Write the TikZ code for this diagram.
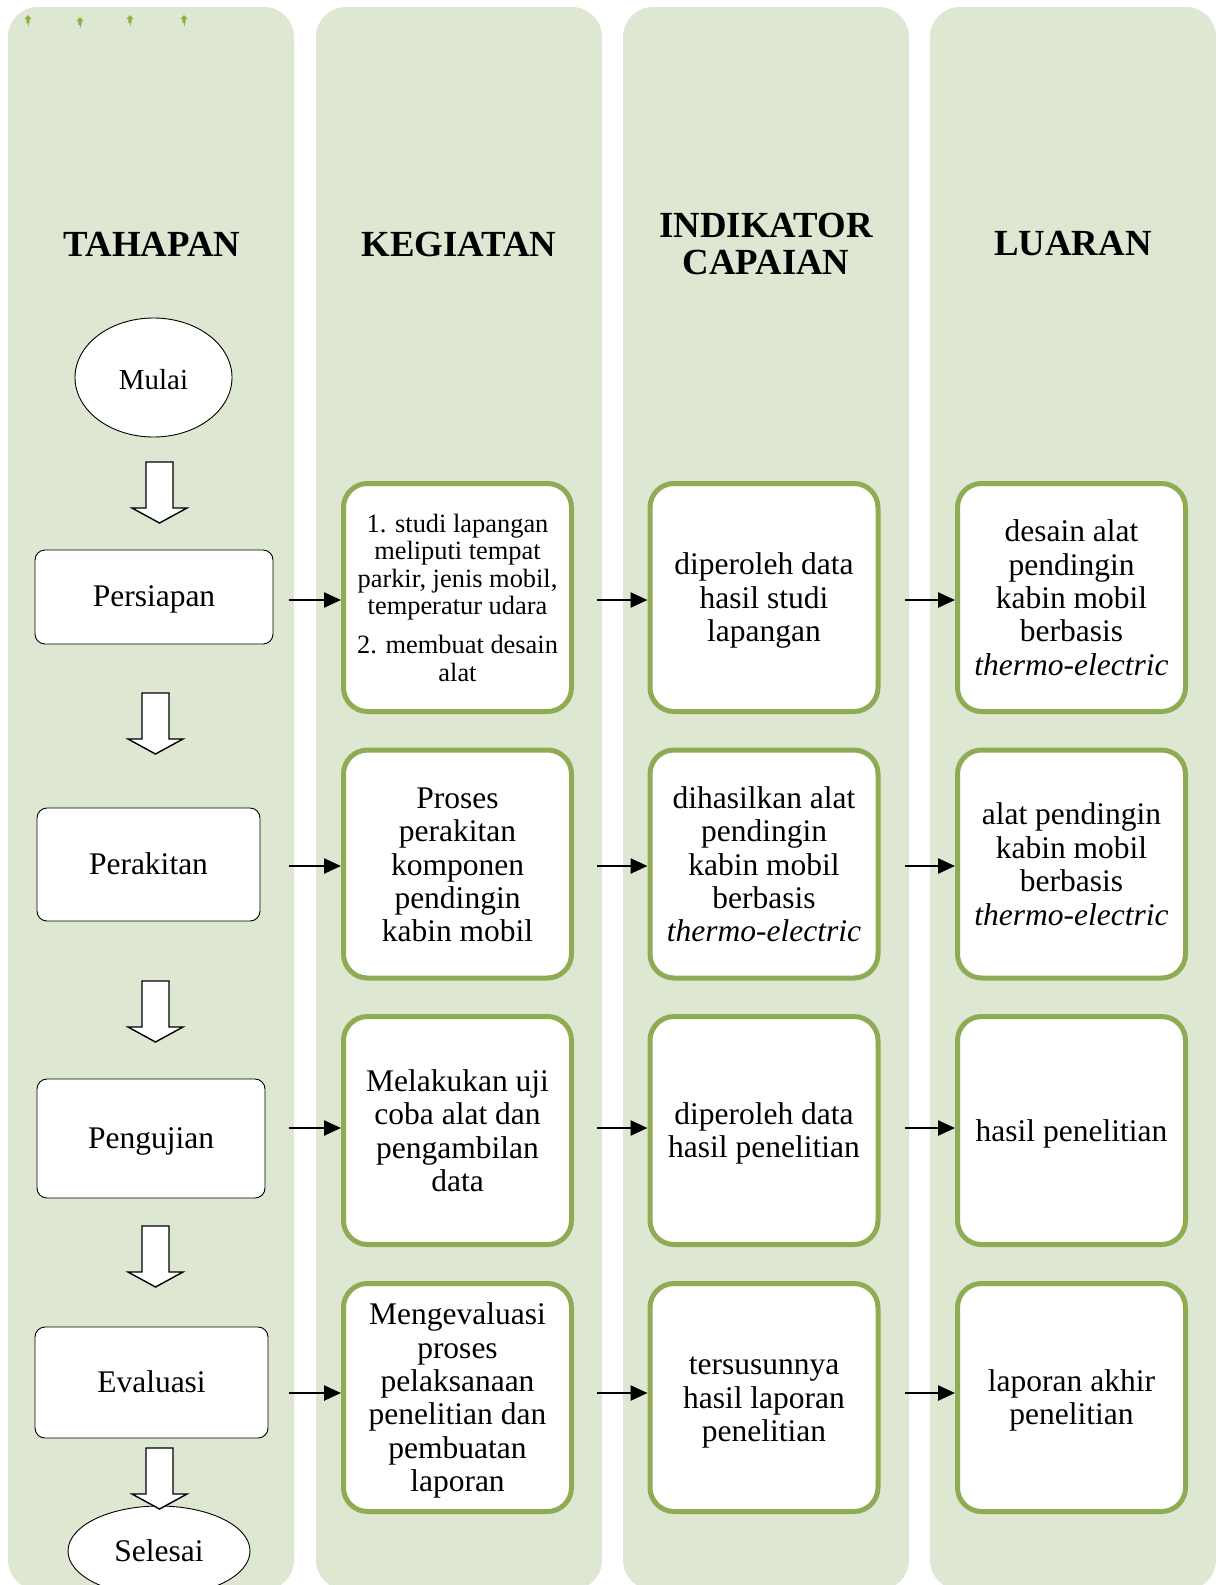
\documentclass[tikz,border=0pt]{standalone}
\usepackage{fontspec}
\setmainfont{Liberation Serif}
\usetikzlibrary{arrows.meta,shapes.geometric}
\definecolor{colbg}{HTML}{DEE7D1}
\definecolor{boxgreen}{HTML}{8FAC54}
\definecolor{tinygreen}{HTML}{8CB43C}
\newcommand\hdfont{\fontsize{36.8}{37.5}\selectfont\bfseries}
\newcommand\bdfont{\fontsize{31.5}{33.4}\selectfont}
\newcommand\smfont{\fontsize{26.4}{27.6}\selectfont}
\newcommand\mlfont{\fontsize{29}{31}\selectfont}
% struts: boxes centre their text on uniform line boxes
\newcommand\gtop{\rule{0pt}{28pt}}
\newcommand\gbot{\rule[-6pt]{0pt}{6pt}}
\newcommand\lst{\rule[-6pt]{0pt}{32pt}}
\newcommand\blkarrow[2]{%
  \draw[line width=1.4pt, fill=white, line join=miter]
    (#1-13.5,#2) -- (#1+13.5,#2) -- (#1+13.5,#2+46) -- (#1+27.5,#2+46)
    -- (#1,#2+61) -- (#1-27.5,#2+46) -- (#1-13.5,#2+46) -- cycle;}
\newcommand\tinyarrow[2]{%
  \draw[gray!70, line width=0.8pt] (#1,#2+7) -- (#1,#2+11);
  \fill[tinygreen] (#1,#2) -- (#1+3.5,#2+4) -- (#1+1.6,#2+4) -- (#1+1.6,#2+8)
    -- (#1-1.6,#2+8) -- (#1-1.6,#2+4) -- (#1-3.5,#2+4) -- cycle;}
\begin{document}
\begin{tikzpicture}[x=1pt,y=-1pt,
  hd/.style={font=\hdfont, align=center, inner sep=0pt},
  gbox/.style={draw=boxgreen, line width=5pt, fill=white, rounded corners=24pt,
    minimum width=228pt, minimum height=228pt, align=center, font=\bdfont, inner sep=0pt},
  lbox/.style={draw=black, line width=0.9pt, fill=white, rounded corners=10pt,
    align=center, font=\bdfont, inner sep=0pt},
  oval/.style={ellipse, draw=black, line width=0.9pt, fill=white, inner sep=0pt},
  conn/.style={line width=2.5pt, -{Triangle[length=17pt,width=15pt]}}]
\useasboundingbox (0,0) rectangle (1221,1585);
\begin{scope}
\clip (0,0) rectangle (1221,1585);
\foreach \l in {8,316,623,930}
  \fill[colbg, rounded corners=30pt] (\l,7) rectangle ++(286,1583);

% tiny marks
\tinyarrow{28}{15}
\tinyarrow{80}{17}
\tinyarrow{130}{15}
\tinyarrow{184}{15}

% headings
\node[hd] (h1) at (152,244) {TAHAPAN};
\node[hd] (h2) at (459,244) {KEGIATAN};
\node[hd] (h3) at (766,244) {INDIKATOR\\CAPAIAN};
\node[hd] (h4) at (1073,244) {LUARAN};

% left column
\node[oval, minimum width=157pt, minimum height=119pt, font=\mlfont] (mulai) at (153.5,377.5) {\rule[-3pt]{0pt}{30pt}Mulai};
\node[lbox, minimum width=238pt, minimum height=94pt] (t1) at (154,597) {\lst Persiapan};
\node[lbox, minimum width=223pt, minimum height=113pt] (t2) at (148.5,864.5) {\lst Perakitan};
\node[lbox, minimum width=228pt, minimum height=119pt] (t3) at (151,1138.5) {\lst Pengujian};
\node[lbox, minimum width=233pt, minimum height=111pt] (t4) at (151.5,1382.5) {\lst Evaluasi};
\node[oval, minimum width=182pt, minimum height=90pt, font=\bdfont] (selesai) at (159,1551) {Selesai};

\blkarrow{159.5}{462}
\blkarrow{155.5}{693}
\blkarrow{155.5}{981}
\blkarrow{155.5}{1226}
\blkarrow{159.5}{1448}

% kegiatan
\node[gbox, font=\smfont] (k1) at (457.5,597.5) {1. studi lapangan\\meliputi tempat\\parkir, jenis mobil,\\temperatur udara\\[11pt]2. membuat desain\\alat};
\node[gbox] (k2) at (457.5,864) {\gtop Proses\\perakitan\\komponen\\pendingin\\kabin mobil\gbot};
\node[gbox] (k3) at (457.5,1130.5) {\gtop Melakukan uji\\coba alat dan\\pengambilan\\data\gbot};
\node[gbox] (k4) at (457.5,1397.5) {\gtop Mengevaluasi\\proses\\pelaksanaan\\penelitian dan\\pembuatan\\laporan\gbot};

% indikator
\node[gbox] (i1) at (764,597.5) {\gtop diperoleh data\\hasil studi\\lapangan\gbot};
\node[gbox] (i2) at (764,864) {\gtop dihasilkan alat\\pendingin\\kabin mobil\\berbasis\\\textit{thermo-electric}\gbot};
\node[gbox] (i3) at (764,1130.5) {\gtop diperoleh data\\hasil penelitian\gbot};
\node[gbox] (i4) at (764,1397.5) {\gtop tersusunnya\\hasil laporan\\penelitian\gbot};

% luaran
\node[gbox] (l1) at (1071.5,597.5) {\gtop desain alat\\pendingin\\kabin mobil\\berbasis\\\textit{thermo-electric}\gbot};
\node[gbox] (l2) at (1071.5,864) {\gtop alat pendingin\\kabin mobil\\berbasis\\\textit{thermo-electric}\gbot};
\node[gbox] (l3) at (1071.5,1130.5) {\gtop hasil penelitian\gbot};
\node[gbox] (l4) at (1071.5,1397.5) {\gtop laporan akhir\\penelitian\gbot};

% connectors
\foreach \r/\y in {1/600,2/866,3/1128,4/1393}{
  \coordinate (s\r a) at (289,\y);
  \coordinate (s\r b) at (597,\y);
  \coordinate (s\r c) at (905,\y);
  \draw[conn] (s\r a) -- (k\r.west |- s\r a);
  \draw[conn] (s\r b) -- (i\r.west |- s\r b);
  \draw[conn] (s\r c) -- (l\r.west |- s\r c);
}
\end{scope}
\end{tikzpicture}
\end{document}
